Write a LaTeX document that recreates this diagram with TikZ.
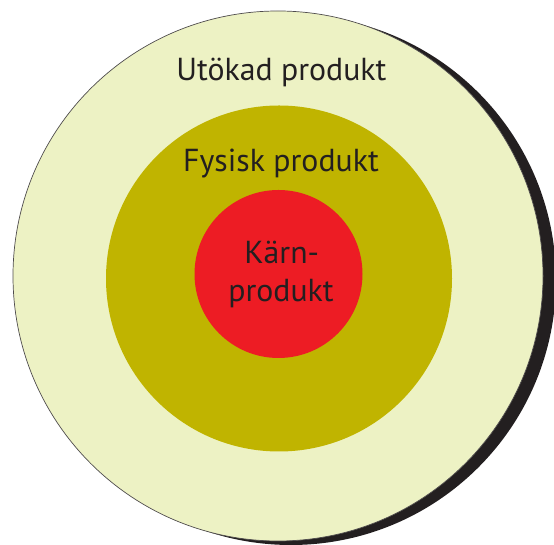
\documentclass[tikz,border=0pt]{standalone}
\usepackage{fontspec}
\setmainfont{PT Sans}
\definecolor{paleyellow}{RGB}{237,242,196}
\definecolor{olive}{RGB}{192,180,0}
\definecolor{corered}{RGB}{237,28,36}
\definecolor{shadowdark}{RGB}{35,31,32}
\definecolor{textdark}{RGB}{35,31,32}
\tikzset{
  lbl/.style={anchor=base, text=textdark, inner sep=0pt, font=\fontsize{31.8}{37}\selectfont},
}
\begin{document}
\begin{tikzpicture}[x=1pt,y=1pt]
\useasboundingbox (0,0) rectangle (554,545);
\begin{scope}
\clip (0,0) rectangle (554,545);
\fill[shadowdark] (291,265) circle[radius=265];
\end{scope}
\fill[paleyellow, draw=shadowdark!80, line width=0.7pt] (278,269) circle[radius=265];
\fill[olive] (279,266.5) circle[radius=173];
\fill[corered] (278.5,271) circle[radius=84];
\node[lbl] (outer) at (281.4,464.3) {Utökad produkt};
\node[lbl] (phys) at (281,373.3) {Fysisk produkt};
\node[lbl] (core1) at (281.7,281) {Kärn-};
\node[lbl] (core2) at (281,243.3) {produkt};
\end{tikzpicture}
\end{document}
